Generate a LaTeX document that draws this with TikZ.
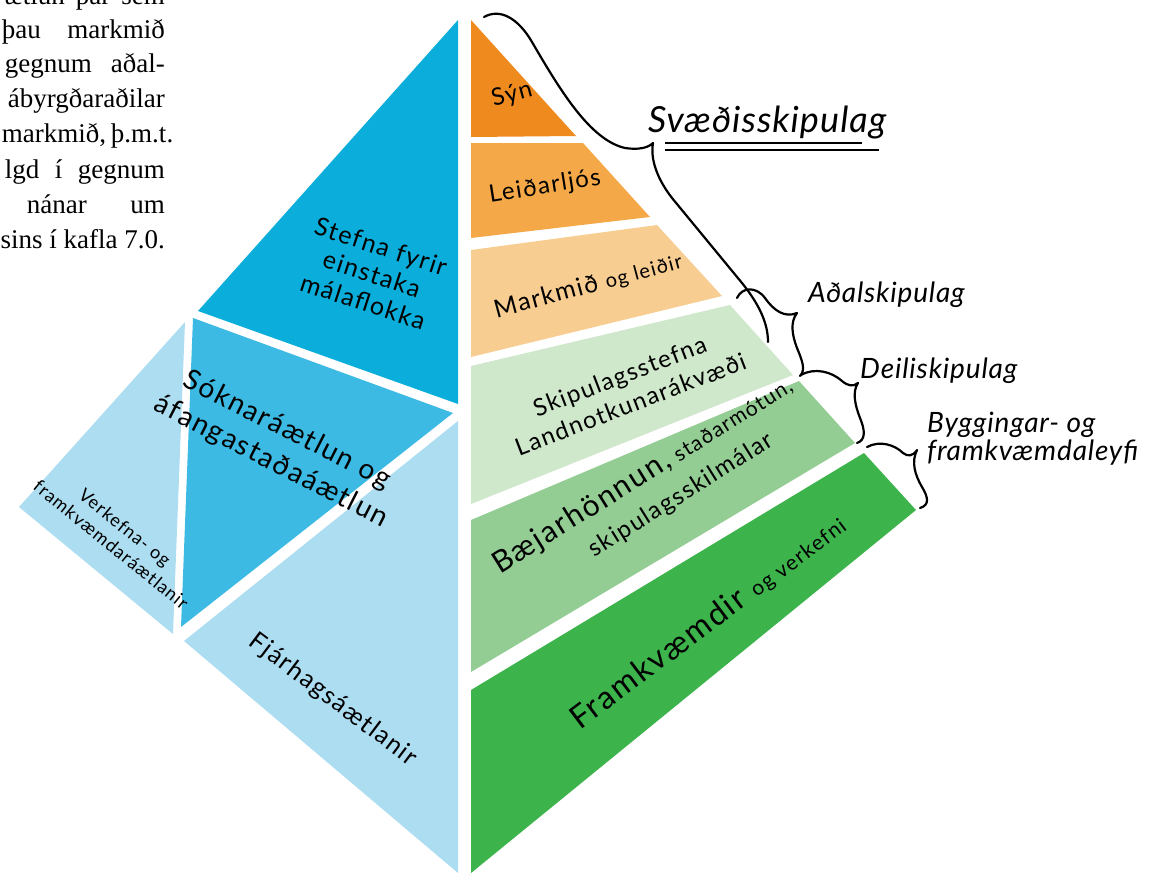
\documentclass[tikz,border=0pt]{standalone}
\usepackage{fontspec}
\setmainfont{Liberation Serif}
\newfontfamily\lblfont[LetterSpace=6]{Lato}
\newfontfamily\brcfont[LetterSpace=3]{Lato}
\usetikzlibrary{positioning}
\newcommand{\fs}[2]{\fontsize{#1}{#2}\selectfont}
\definecolor{blueA}{HTML}{0BADDA}
\definecolor{blueB}{HTML}{3CBAE3}
\definecolor{blueC}{HTML}{ADDDF1}
\definecolor{orA}{HTML}{EF8A1F}
\definecolor{orB}{HTML}{F4A848}
\definecolor{orC}{HTML}{F8CD92}
\definecolor{grA}{HTML}{CFE7CA}
\definecolor{grB}{HTML}{93CD93}
\definecolor{grC}{HTML}{3DB34B}
\tikzset{
    node style lbl/.style 2 args={font=\lblfont\fs{#1}{#2}, align=center, inner sep=0pt},
    node style brc/.style={font=\brcfont\itshape\fs{#1}{#1}, inner sep=0pt, anchor=base west},
    node style txt/.style={inner sep=0pt, anchor=base east, font=\fs{27}{33}},
    brace style/.style={draw, line width=2.2pt, line cap=round, line join=round},
}

\begin{document}
\begin{tikzpicture}[x=1pt,y=-1pt]
\useasboundingbox (0,0) rectangle (1155,875);
% textinn efst til vinstri
\node[node style txt] (t1) at (165,5)   {\makebox[160pt][s]{ætlun þar sem}};
\node[node style txt] (t2) at (165,38)  {\makebox[163pt][s]{þau markmið}};
\node[node style txt] (t3) at (165,72)  {\makebox[160pt][s]{gegnum aðal-}};
\node[node style txt] (t4) at (165,107) {ábyrgðaraðilar};
\node[node style txt] (t5) at (165,142) {\makebox[163pt][s]{markmið, þ.m.t.}};
\node[node style txt] (t6) at (165,178) {\makebox[160pt][s]{lgd í gegnum}};
\node[node style txt] (t7) at (165,213) {\makebox[138pt][s]{nánar um}};
\node[node style txt] (t8) at (165,248) {sins í kafla 7.0.};
% vinstri hlidin
\fill[blueA] (458,20) -- (198,311) -- (458,404) -- cycle;
\fill[blueB] (193,318) -- (453,413) -- (181,627) -- cycle;
\fill[blueC] (185,322) -- (19,507) -- (173,634) -- cycle;
\fill[blueC] (184,641) -- (458,421) -- (458,873) -- cycle;
% haegri hlidin
\fill[orA] (471,20) -- (576,136) -- (471,137) -- cycle;
\fill[orB] (471,143) -- (583,143) -- (650,217) -- (471,238) -- cycle;
\fill[orC] (471,250) -- (657,225) -- (722,296) -- (471,357) -- cycle;
\fill[grA] (471,366) -- (730,305) -- (793,375) -- (471,504) -- cycle;
\fill[grB] (471,520) -- (799,381) -- (855,443) -- (471,672) -- cycle;
\fill[grC] (471,690) -- (864,453) -- (916,510) -- (471,873) -- cycle;
% merkingar
\node[node style lbl={25}{29}, rotate=-18] (stefna) at (372,274) {Stefna fyrir\\einstaka\\málaflokka};
\node[node style lbl={28}{35}, rotate=-27] (sokn) at (279,446) {Sóknaráætlun og\\áfangastaðaáætlun};
\node[node style lbl={18}{22}, rotate=-39] (verk) at (118,536) {Verkefna- og\\framkvæmdaráætlanir};
\node[node style lbl={25}{28}, rotate=-37] (fjar) at (333,700) {Fjárhagsáætlanir};
\node[node style lbl={24}{28}, rotate=15] (syn) at (512,95) {Sýn};
\node[node style lbl={24}{28}, rotate=9] (leid) at (545,187) {Leiðarljós};
\node[node style lbl={25}{28}, rotate=15] (mark) at (588,286) {Markmið {\fs{20}{24}og leiðir}};
\node[node style lbl={24}{30}, rotate=21] (skip) at (625,390) {Skipulagsstefna\\Landnotkunarákvæði};
\node[node style lbl={24}{36}, rotate=32] (baej) at (652,490) {{\fs{30}{34}Bæjarhönnun,} {\fs{21}{26}staðarmótun,}\\\hspace*{44pt}skipulagsskilmálar};
\node[node style lbl={32}{36}, rotate=37] (frkv) at (708,622) {Framkvæmdir {\fs{21}{26}og verkefni}};
% slaufusvigar
\coordinate (tipS) at (653,143);
\coordinate (tipA) at (797,313);
\coordinate (tipD) at (858,383);
\coordinate (tipB) at (917,450);
\draw[brace style] (484,17) .. controls (500,8) and (518,18) .. (532,42)
    .. controls (560,90) and (590,140) .. (625,148)
    .. controls (638,150) and (648,148) .. (tipS)
    .. controls (650,160) and (658,180) .. (672,198) -- (742,283)
    .. controls (758,303) and (768,322) .. (768,342);
\draw[brace style] (737,298) .. controls (742,287) and (756,286) .. (765,298)
    .. controls (774,311) and (785,318) .. (tipA)
    .. controls (790,322) and (792,335) .. (797,348)
    .. controls (802,360) and (806,370) .. (800,376);
\draw[brace style] (801,375) .. controls (815,367) and (832,372) .. (842,381)
    .. controls (848,386) and (853,387) .. (tipD)
    .. controls (852,392) and (855,405) .. (860,418)
    .. controls (865,430) and (866,440) .. (857,443);
\draw[brace style] (867,447) .. controls (880,440) and (895,445) .. (903,453)
    .. controls (908,457) and (913,456) .. (tipB)
    .. controls (911,462) and (915,475) .. (922,487)
    .. controls (928,497) and (930,505) .. (920,508);
\node[node style brc=36] (svaed) at (648,132) {Svæðisskipulag};
\draw[line width=1.6pt] ([xshift=17pt,yshift=-11pt]svaed.base west) -- ([xshift=-25pt,yshift=-11pt]svaed.base east);
\draw[line width=1.6pt] ([xshift=17pt,yshift=-18pt]svaed.base west) -- ([xshift=-8pt,yshift=-18pt]svaed.base east);
\node[node style brc=28] (adal) at (808,302) {Aðalskipulag};
\node[node style brc=28] (deili) at (860,378) {Deiliskipulag};
\node[node style brc=28] (bygg1) at (927,432) {Byggingar- og};
\node[node style brc=28] (bygg2) at ([yshift=-28pt]bygg1.base west) {framkvæmdaleyfi};
\end{tikzpicture}
\end{document}
